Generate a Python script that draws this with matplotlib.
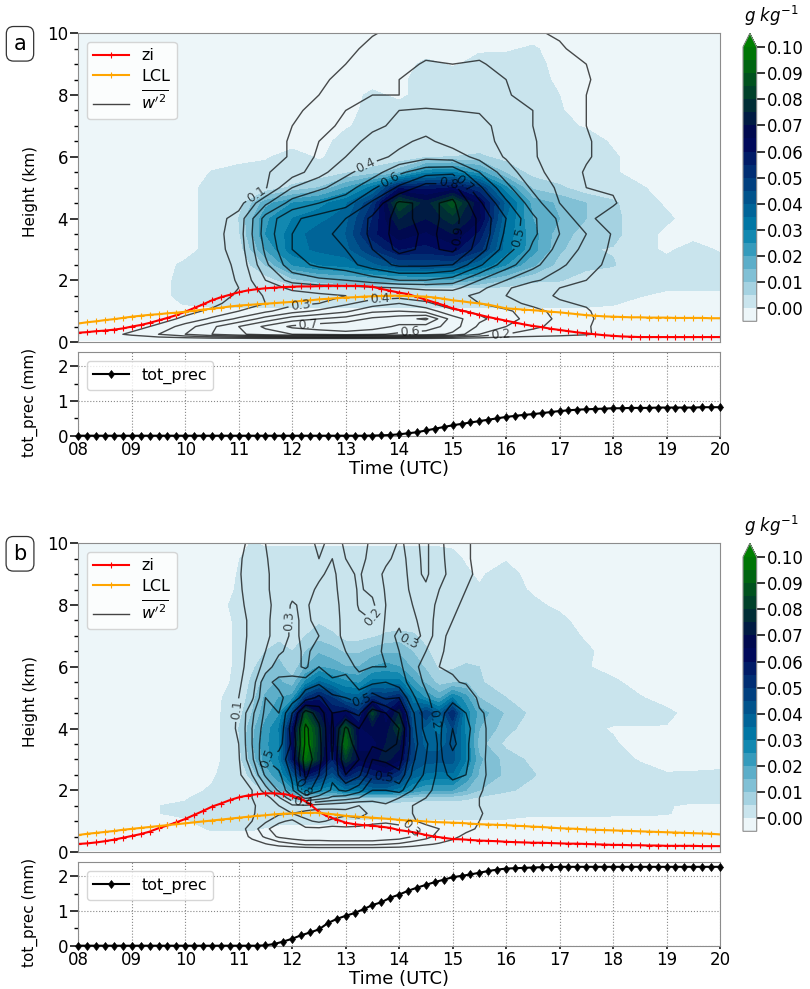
import numpy as np
import matplotlib
matplotlib.use('Agg')
import matplotlib.pyplot as plt

W, H = 810, 989

# 10 minute series, 08 to 20 UTC
zi_a = [.30,.32,.35,.37,.40,.44, .50,.55,.62,.70,.78,.87, .98,1.10,1.22,1.35,1.45,1.53,
        1.61,1.67,1.71,1.74,1.76,1.78, 1.79,1.80,1.80,1.81,1.82,1.82, 1.82,1.82,1.81,1.79,1.72,1.66,
        1.60,1.55,1.46,1.37,1.28,1.19, 1.09,1.02,.95,.88,.81,.75, .69,.63,.57,.52,.48,.43,
        .39,.35,.31,.28,.25,.22, .20,.18,.17,.16,.16,.16, .16,.16,.16,.16,.16,.16, .16]
lcl_a = [.60,.64,.67,.71,.74,.78, .82,.85,.88,.90,.93,.95, .98,1.01,1.05,1.08,1.11,1.15,
         1.18,1.20,1.22,1.24,1.26,1.28, 1.30,1.33,1.35,1.38,1.40,1.42, 1.44,1.45,1.47,1.48,1.49,1.50,
         1.50,1.49,1.48,1.47,1.44,1.40, 1.35,1.32,1.28,1.25,1.21,1.15, 1.09,1.07,1.05,1.03,1.01,.98,
         .96,.93,.90,.87,.85,.83, .82,.81,.80,.80,.79,.79, .79,.78,.78,.78,.78,.77, .77]
prec_a = [0,0,0,0,0,0, 0,0,0,0,0,0, 0,0,0,0,0,0, 0,0,0,0,0,0, 0,0,0,0,0,0, 0,0,0,.005,.01,.02,
          .04,.07,.10,.15,.20,.25, .30,.34,.38,.42,.46,.50, .54,.57,.60,.62,.65,.68,
          .71,.73,.75,.76,.77,.78, .79,.79,.80,.80,.80,.81, .81,.81,.81,.81,.82,.82, .82]
zi_b = [.26,.28,.31,.35,.40,.46, .52,.58,.66,.77,.86,.96, 1.07,1.20,1.33,1.47,1.57,1.68,
        1.77,1.83,1.87,1.90,1.90,1.88, 1.83,1.72,1.55,1.30,1.15,1.05, .95,.90,.87,.85,.82,.78,
        .71,.67,.62,.55,.50,.46, .42,.41,.39,.37,.36,.35, .33,.32,.31,.30,.30,.29,
        .28,.27,.27,.26,.25,.24, .23,.23,.22,.22,.21,.21, .20,.20,.20,.20,.19,.19, .19]
lcl_b = [.55,.59,.62,.65,.68,.72, .75,.78,.81,.84,.87,.90, .93,.96,.99,1.02,1.05,1.08,
         1.11,1.14,1.17,1.19,1.22,1.24, 1.25,1.26,1.27,1.27,1.24,1.21, 1.17,1.15,1.13,1.11,1.09,1.07,
         1.04,1.02,1.01,.99,.97,.96, .95,.94,.92,.90,.89,.88, .87,.85,.84,.82,.81,.79,
         .77,.76,.75,.73,.72,.71, .70,.69,.68,.67,.66,.65, .64,.63,.62,.61,.60,.59, .57]
prec_b = [0,0,0,0,0,0, 0,0,0,0,0,0, 0,0,0,0,0,0, 0,0,0,.01,.05,.12, .20,.30,.38,.47,.65,.77,
          .86,.94,1.05,1.17,1.25,1.38, 1.47,1.58,1.67,1.75,1.83,1.90, 1.97,2.01,2.05,2.10,2.15,2.19,
          2.22,2.23,2.24,2.25,2.26,2.26, 2.27,2.27,2.27,2.27,2.27,2.27, 2.27,2.27,2.27,2.27,2.27,2.27,
          2.27,2.27,2.27,2.27,2.27,2.27, 2.27]

hours = ['08','09','10','11','12','13','14','15','16','17','18','19','20']

heights = [.05,.1,.25,.5,.75,1,1.25,1.5,1.75,2,2.5,3,3.5,4,4.5,5,5.5,6,6.5,7,7.5,8,8.5,9,9.5,10]
times_a = [8,8.5,9,9.5,10,10.5,11,11.5,12,12.5,13,13.5,14,14.5,15,15.5,16,16.5,17,17.5,18,18.5,19,19.5,20]
times_b = [8,10,10.5,10.75,11,11.25,11.5,11.75,12,12.25,12.5,12.75,13,13.25,13.5,13.75,
           14,14.25,14.5,14.75,15,15.25,15.5,16,16.5,17,17.5,18,18.5,19,19.5,20]

# mixing ratio in 0.001 g/kg, rows from the ground up
qc_a = [
 [-1]*25,
 [-1]*25,
 [-1]*25,
 [-1]*25,
 [-1]*25,
 [-1]*25,
 [-1,-1,-1,-1,.2,1,1,1,1,1,1,1,1,1,1,1,1,1,1,1,.3,-1,-1,-1,-1],
 [-1,-1,-1,-1,1,1,1,1,1,1,1,1,1,1,1,1,1,1,1,1,1,.2,-1,-1,-1],
 [-1,-1,-1,-1,1,1,1,1,3,4,5,5,5,5,5,5,4,2,1,1,1,1,.5,.5,.5],
 [-1,-1,-1,-1,1,1,1,2.5,8,12,14,16,17,18,18,15,10,6,5.5,1.5,1,1,1,1,1],
 [-1,-1,-1,-1,.5,1,1,10,25,30,32,38,45,46,45,35,25,16,8,7,5.5,1,1,1,1],
 [-1,-1,-1,-1,-1,1,2,20,33,36,38,50,60,58,62,52,32,22,11,5.5,4.5,1,-.5,1,-.3],
 [-1,-1,-1,-1,-1,1,4,25,32,38,40,58,68,64,70,58,33,22,12,8,7,1,-.5,-1,-1],
 [-1,-1,-1,-1,-1,1,5,24,30,33,38,55,75,70,78,66,35,20,15,10,7,1,.4,-1,-1],
 [-1,-1,-1,-1,-1,1,2,18,25,28,34,50,85,72,88,65,38,18,14,10,6,1,-.3,-1,-1],
 [-1,-1,-1,-1,-1,1,1,1,6,10,20,32,58,58,60,50,26,9,6,1.5,1,.3,-1,-1,-1],
 [-1,-1,-1,-1,-1,.1,.5,1,1,1,4,7,13,28,30,22,9,3,1,1,.3,-1,-1,-1,-1],
 [-1,-1,-1,-1,-1,-1,-.5,-.3,1,-.3,1,1,1,4,5,6,3,1,1,1,.3,-1,-1,-1,-1],
 [-1,-1,-1,-1,-1,-1,-1,-1,-1,-1,1,1,1,1,1,1,1,1,1,1,-.3,-1,-1,-1,-1],
 [-1,-1,-1,-1,-1,-1,-1,-1,-1,-1,-.3,1,1,1,1,1,1,1,.5,-.2,-1,-1,-1,-1,-1],
 [-1,-1,-1,-1,-1,-1,-1,-1,-1,-1,-1,1,1,1,1,1,1,1,.2,-1,-1,-1,-1,-1,-1],
 [-1,-1,-1,-1,-1,-1,-1,-1,-1,-1,-1,.5,-.5,1,1,1,1,1,0,-1,-1,-1,-1,-1,-1],
 [-1,-1,-1,-1,-1,-1,-1,-1,-1,-1,-1,-1,-.5,1,1,1,1,1,-.5,-1,-1,-1,-1,-1,-1],
 [-1,-1,-1,-1,-1,-1,-1,-1,-1,-1,-1,-1,-1,.5,-.2,.5,1,1,-1,-1,-1,-1,-1,-1,-1],
 [-1,-1,-1,-1,-1,-1,-1,-1,-1,-1,-1,-1,-1,-1,-1,-.2,-.3,.3,-1,-1,-1,-1,-1,-1,-1],
 [-1]*25,
]

# vertical velocity variance in 0.01 m2/s2, rows from the ground up
wp2_a = [
 [0]*25,
 [0,1,2,3,3,4,4,5,5,5,5,5,5,5,4,4,3,3,2,2,1,1,1,1,1],
 [2,6,12,20,30,40,48,55,60,62,65,62,58,55,48,30,20,16,14,11,6,4,3,2,2],
 [1,3,6,12,25,38,50,62,72,76,78,75,68,66,55,38,30,22,17,11,5,3,2,2,1],
 [0,1,3,6,12,22,32,44,55,60,64,72,76,82,55,42,35,25,18,12,5,3,2,1,1],
 [0,0,1,3,7,12,20,28,36,42,48,58,60,56,42,38,32,24,16,11,5,3,2,1,1],
 [0,0,1,2,3,7,15,20,27,30,38,45,50,42,34,30,24,17,11,9,5,3,2,1,1],
 [0,0,0,1,2,4,12,21,26,28,30,35,35,34,33,28,20,13,9,10,5,3,2,1,1],
 [0,0,0,1,2,4,10,25,32,35,36,38,40,42,43,33,22,12,10,10,6,3,2,1,1],
 [0,0,0,1,2,4,11,30,44,48,50,55,60,60,55,40,30,22,15,10,6,3,2,1,1],
 [0,0,0,1,2,5,12,38,56,62,66,75,82,82,80,62,44,33,22,14,7,3,2,1,1],
 [0,0,0,1,2,6,14,42,60,65,70,80,93,88,92,75,55,38,27,17,8,3,2,1,1],
 [0,0,0,1,2,6,15,45,60,68,72,82,95,88,93,78,58,42,30,20,9,3,2,1,1],
 [0,0,0,1,2,5,14,44,58,64,70,82,94,86,94,78,60,42,28,12,6,3,2,1,1],
 [0,0,0,1,2,3,6,28,44,50,56,72,92,88,92,72,52,35,20,11,11,4,2,1,1],
 [0,0,0,1,1,2,4,9,30,38,45,58,72,85,84,62,43,28,18,10,9,3,2,1,1],
 [0,0,0,1,1,2,3,9,15,26,38,45,58,66,68,50,35,23,16,9,5,2,1,1,1],
 [0,0,0,0,1,2,3,6,11,22,30,37,42,47,45,37,29,21,15,11,6,2,1,1,1],
 [0,0,0,0,1,2,3,6,11,20,26,33,38,42,36,34,27,21,14,11,6,2,1,1,1],
 [0,0,0,0,1,1,2,5,10,17,22,28,32,36,32,34,25,20,13,10,9,2,1,1,1],
 [0,0,0,0,0,1,2,4,8,13,20,26,30,31,30,29,22,20,12,10,6,2,1,1,1],
 [0,0,0,0,0,1,1,3,6,10,15,20,20,24,23,24,21,16,11,10,5,2,1,1,1],
 [0,0,0,0,0,1,1,2,4,8,13,18,20,23,22,23,20,14,11,11,5,2,1,1,1],
 [0,0,0,0,0,0,1,2,3,6,10,14,17,21,20,21,17,13,11,10,4,2,1,1,1],
 [0,0,0,0,0,0,1,1,2,4,8,12,15,17,17,17,15,12,11,7,3,1,1,1,1],
 [0,0,0,0,0,0,1,1,2,3,7,9.5,12,14,14,14,13,11,9,5,2,1,1,1,1],
]

qc_b = [
 [-1]*32,
 [-1]*32,
 [-1]*32,
 [-1]*32,
 [-1,-1,.3,.3,.3,.3,-.2,-1, -1,-1,-1,-1,-1,-1,-1,-1, -1,-1,-1,-1,-1,-1,-1,-1, -1,-1,-1,-1,-1,-1,-1,-1],
 [-1,-.2,.8,1,1,1,1,1, 1,1,1,1,-.3,-.3,-.3,-.3, -.3,-.3,-.3,-.3,-.3,-.3,-.3,-.3, -1,-1,-1,-1,-1,-1,-1,-1],
 [-1,.3,1,1,1,1,1,1, 1,1,1,1,1,1,1,1, 1,1,1,1,1,1,1,.8, .6,.6,.6,.5,.4,.2,-1,-1],
 [-1,.3,1,1,1,1,1,1, 1.5,1.5,1.5,1.5,1.5,1.5,1.5,1.5, 1.5,1.5,1.5,1.5,1.5,1.2,1,1, 1,1,1,1,1,.2,-.5,-.5],
 [-1,-.2,1,1,1,1,1,3, 7,9,9,9,9,9,9,9, 9,8,7,7,7,6,4,1.5, 1,1,1,1,1,1,1,1],
 [-1,-1,.4,1,1,1.5,6,14, 22,30,28,24,32,32,36,36, 32,24,20,20,20,15,10,6, 3,1,1,1,1,1,1,1],
 [-1,-1,-.5,1,1,7,16,24, 40,60,52,42,58,50,55,58, 50,38,34,33,34,24,14,9, 5.5,1,1,1,1,.2,.3,.5],
 [-1,-1,-1,.5,3,12,22,30, 58,95,76,55,80,66,68,72, 66,46,42,42,42,30,16,8, 3.5,1,1,1,-.2,-1,-1,-1],
 [-1,-1,-1,.5,4,14,24,28, 62,105,78,58,95,64,62,70, 72,46,38,38,42,30,12,3.5, 2,1,1,.3,-1,-1,-1,-1],
 [-1,-1,-1,.5,5,13,22,30, 60,100,78,62,88,64,68,66, 82,44,38,32,45,28,15,7, 1.5,1,.5,-.2,-.2,-.2,-1,-1],
 [-1,-1,-1,.5,3,10,18,24, 45,85,70,60,62,52,82,60, 75,40,50,38,55,28,18,9, 3.5,1,1,1,1,.6,-1,-1],
 [-1,-1,-1,.3,1,8,16,20, 22,50,58,50,38,38,52,50, 55,32,24,18,30,22,10,5, 2,1,1,.2,.2,-1,-1,-1],
 [-1,-1,-1,-.5,1,6,12,16, 12,26,36,30,26,24,32,32, 32,22,14,8,9,10,5.5,2.5, 1,1,1,.5,-1,-1,-1,-1],
 [-1,-1,-1,-1,1,4,8,12, 6,15,20,18,15,15,20,22, 20,14,9,4,4,6,5,1, 1,1,.2,-1,-1,-1,-1,-1],
 [-1,-1,-1,-1,1,1,5,8, 5,10,14,12,9,9,12,14, 14,10,6,2,1,1,1,1, 1,1,.4,-1,-1,-1,-1,-1],
 [-1,-1,-1,-1,1,1,1,3, 4,5,8,6,3,3,4,6, 7,6,3,1,1,1,1,1, 1,1,-.3,-1,-1,-1,-1,-1],
 [-1,-1,-1,-1,1,1,1,1, 1,1,4,2,1,1,1,1, 1,1,1,1,1,1,1,1, 1,.6,-1,-1,-1,-1,-1,-1],
 [-1,-1,-1,-.3,1,1,1,1, 1,1,1,1,1,1,1,1, 1,1,1,1,1,1,.5,1, .5,-.5,-1,-1,-1,-1,-1,-1],
 [-1,-1,-1,-1,.5,1,1,1, 1,1,1,1,1,1,1,1, 1,1,1,1,1,1,.2,1, -.3,-1,-1,-1,-1,-1,-1,-1],
 [-1,-1,-1,-1,.2,1,1,1, 1,1,1,1,1,1,1,1, 1,1,1,1,1,.3,-.3,1, -1,-1,-1,-1,-1,-1,-1,-1],
 [-1,-1,-1,-1,-.1,1,1,1, 1,1,1,1,1,1,1,1, 1,1,1,1,.5,-.2,-.8,-.2, -1,-1,-1,-1,-1,-1,-1,-1],
 [-1,-1,-1,-1,-.5,.1,-.3,-.3, -.3,-.3,-.3,-.3,-.3,-.3,-.3,-.3, -.3,-.3,-.3,-.3,-.3,-.3,-1,-1, -1,-1,-1,-1,-1,-1,-1,-1],
]

wp2_b = [
 [0]*32,
 [0,0,0,0,1,1,2,3, 3,4,5,5,5,5,5,5, 5,5,4,4,3,2,2,1, 0,0,0,0,0,0,0,0],
 [0,0,0,1,3,6,9,14, 18,22,22,22,22,22,22,20, 18,14,11,9,7,5,3,1, 1,0,0,0,0,0,0,0],
 [0,0,1,3,5,12,22,32, 36,38,38,40,40,40,40,38, 36,30,24,16,12,8,5,2, 1,0,0,0,0,0,0,0],
 [0,0,1,2,6,14,28,35, 38,32,32,34,32,34,36,36, 34,30,26,20,14,12,9,3, 1,0,0,0,0,0,0,0],
 [0,0,1,2,4,10,18,28, 32,22,18,22,24,22,26,28, 26,22,15,13,12,11,10,3, 1,0,0,0,0,0,0,0],
 [0,0,1,1,3,9,14,18, 20,16,14,15,18,17,22,24, 22,20,15,10,11,12,11,3, 1,0,0,0,0,0,0,0],
 [0,0,1,1,4,9,13,20, 28,28,25,24,22,20,22,28, 24,20,18,12,11,11,10,3, 1,0,0,0,0,0,0,0],
 [0,0,1,2,5,10,15,28, 48,62,55,48,45,40,36,36, 30,24,20,14,13,13,10,3, 1,0,0,0,0,0,0,0],
 [0,0,1,2,6,10,25,42, 58,85,72,58,62,54,40,40, 44,30,24,15,16,15,11,3, 1,0,0,0,0,0,0,0],
 [0,0,2,4,8,20,42,48, 62,92,80,62,80,72,52,52, 58,38,28,17,22,20,12,4, 1,1,0,0,0,0,0,0],
 [0,0,2,5,9,28,50,55, 65,96,84,60,90,80,60,62, 64,42,30,18,26,22,12,3, 1,1,0,0,0,0,0,0],
 [0,1,3,6,10,30,48,46, 62,92,84,58,88,72,72,78, 68,45,32,18,33,22,12,4, 1,1,0,0,0,0,0,0],
 [0,1,4,7,11,30,45,42, 65,92,82,58,82,70,72,76, 70,45,25,18,30,24,12,4, 1,1,0,0,0,0,0,0],
 [0,1,3,6,11,28,42,40, 60,85,76,60,62,58,75,70, 60,42,25,16,26,20,11,5, 1,1,0,0,0,0,0,0],
 [0,1,2,5,10,18,40,38, 44,55,62,52,50,46,55,48, 50,32,22,14,17,17,8,3, 1,1,0,0,0,0,0,0],
 [0,1,2,4,9,14,38,42, 44,45,48,42,46,34,38,40, 35,26,18,11,11,9,6,3, 1,1,0,0,0,0,0,0],
 [0,1,2,4,8,13,24,36, 34,28,40,35,34,28,30,30, 32,24,15,10,9,7,4,2, 1,1,0,0,0,0,0,0],
 [0,1,2,4,8,12,20,28, 34,28,34,36,30,26,26,32, 30,28,20,11,8,6,3,2, 1,1,0,0,0,0,0,0],
 [0,1,2,4,7,12,18,24, 32,28,30,36,26,24,22,32, 29,33,28,12,8,5,3,1, 1,1,0,0,0,0,0,0],
 [0,1,2,4,7,12,18,24, 32,28,33,34,27,22,20,31, 31,32,26,15,10,6,4,1, 1,1,0,0,0,0,0,0],
 [0,2,3,5,8,13,17,24, 31,28,36,32,28,19,18,30, 33,30,24,18,12,8,5,2, 1,1,0,0,0,0,0,0],
 [0,2,3,5,8,16,18,25, 27,26,32,33,25,19,22,31, 35,28,28,20,15,10,7,2, 1,1,0,0,0,0,0,0],
 [0,2,3,6,8,20,18,25, 22,24,28,33,22,19,25,32, 36,26,32,22,18,11,9,3, 1,1,0,0,0,0,0,0],
 [0,2,3,5,8,16,19,25, 25,24,30,30,20,17,23,28, 33,27,32,22,17,11,8,3, 1,1,0,0,0,0,0,0],
 [0,2,3,5,8,12,20,24, 28,24,33,26,18,16,22,25, 31,28,32,22,16,11,8,4, 1,1,0,0,0,0,0,0],
]

# where the contour labels sit
labels_a = [(11.33,4.76),(13.42,5.57),(13.83,5.25),(15.25,5.2),(14.92,5.0),(15.25,3.4),(16.2,3.4),
            (12.14,1.41),(13.64,1.33),(12.3,.5),(14.2,.35),(15.9,.25)]
labels_b = [(10.95,4.6),(11.55,3.0),(11.83,7.5),(13.5,7.6),(14.17,6.8),(12.17,2.06),(12.2,1.6),
            (13.25,5.0),(13.7,2.5),(14.7,4.3),(14.2,.7)]

bar_levels = np.arange(-0.005, 0.1001, 0.005)
wp2_levels = np.arange(0.1, 0.95, 0.1)


def px_axes(fig, left, top, right, bottom):
    return fig.add_axes([left / W, 1 - bottom / H, (right - left) / W, (bottom - top) / H])


def style_axes(ax):
    for s in ax.spines.values():
        s.set_color('#8c8c8c')
    ax.tick_params(which='major', length=5.5, width=1.1, labelsize=12, pad=2)
    ax.tick_params(which='minor', length=3, width=1)


def draw_panel(fig, top, letter, times, qc, wp2, zi, lcl, prec, label_pos):
    ax = px_axes(fig, 78.3, top, 720, top + 308.7)
    bx = px_axes(fig, 78.3, top + 319, 720, top + 402.4)
    t10 = np.arange(73) / 6 + 8

    cf = ax.contourf(times, heights, np.array(qc) / 1000, levels=bar_levels, cmap='ocean_r', extend='max')
    cs = ax.contour(times, heights, np.array(wp2) / 100, levels=wp2_levels, colors='k', linewidths=1, alpha=0.7)
    ax.clabel(cs, manual=label_pos, fmt='%.1f', fontsize=9, inline=True, inline_spacing=2)
    ax.plot(t10, zi, color='red', lw=1.5, marker='+', ms=4, mew=0.8, label='zi')
    ax.plot(t10, lcl, color='orange', lw=1.5, marker='+', ms=4, mew=0.8, label='LCL')
    ax.plot([], [], color='#444444', lw=1, label=r"$\overline{w'^2}$")
    ax.set_xlim(8, 20)
    ax.set_ylim(0, 10)
    ax.set_xticks(range(8, 21))
    ax.set_xticklabels([])
    ax.set_yticks(range(0, 11, 2))
    ax.set_yticks(np.arange(0, 10.1, 0.5), minor=True)
    ax.set_ylabel('Height (km)', fontsize=11)
    ax.yaxis.set_label_coords(-0.0628, 0.4875)
    style_axes(ax)
    ax.tick_params(axis='x', which='both', length=0)
    ax.legend(loc='upper left', fontsize=11.5, borderaxespad=0.55, handlelength=2.2, labelspacing=0.35)

    bx.plot(t10, prec, color='k', lw=1.5, marker='d', ms=4.5, mew=0.5, label='tot_prec', clip_on=False, zorder=5)
    bx.set_xlim(8, 20)
    bx.set_ylim(0, 2.4)
    bx.set_xticks(range(8, 21))
    bx.set_xticklabels(hours)
    bx.set_yticks([0, 1, 2])
    bx.set_yticks([0.5, 1.5], minor=True)
    bx.grid(True, which='major', color='#888888', linestyle=':', linewidth=0.8)
    bx.set_xlabel('Time (UTC)', fontsize=13, labelpad=1)
    bx.set_ylabel('tot_prec (mm)', fontsize=11)
    bx.yaxis.set_label_coords(-0.0628, 0.398)
    style_axes(bx)
    bx.tick_params(axis='x', which='major', length=2, pad=1.5)
    bx.legend(loc='upper left', fontsize=11.5, borderaxespad=0.55, handlelength=2.2)

    # colourbar with units on top, the triangle lies inside cax
    cax = px_axes(fig, 743, top, 756.7, top + 288)
    cb = fig.colorbar(cf, cax=cax, ticks=np.arange(0, 0.101, 0.01), format='%.2f')
    cb.ax.tick_params(length=6, width=1.1, labelsize=12, pad=1.5)
    cb.outline.set_edgecolor('#8c8c8c')
    fig.text(772 / W, 1 - (top - 17) / H, r'$g\ kg^{-1}$', fontsize=12, ha='center', va='center')

    fig.text(20 / W, 1 - (top + 10.5) / H, letter, fontsize=15, ha='center', va='center',
             bbox=dict(boxstyle='round,pad=0.35', fc='white', ec='#333333', lw=0.9))


fig = plt.figure(figsize=(W / 100, H / 100), dpi=100)
draw_panel(fig, 33.3, 'a', times_a, qc_a, wp2_a, zi_a, lcl_a, prec_a, labels_a)
draw_panel(fig, 543.3, 'b', times_b, qc_b, wp2_b, zi_b, lcl_b, prec_b, labels_b)
fig.savefig('out.png', dpi=100)
